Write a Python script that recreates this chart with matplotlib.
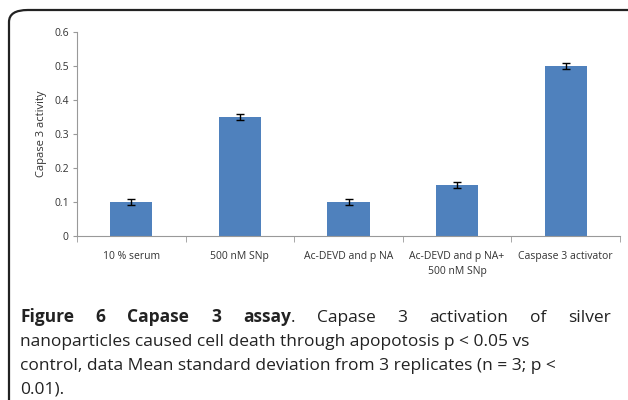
import matplotlib.pyplot as plt
from matplotlib.patches import FancyBboxPatch
import numpy as np

plt.rcParams['font.family'] = ['Open Sans', 'DejaVu Sans']

# data
groups = ['10 % serum', '500 nM SNp', 'Ac-DEVD and p NA', 'Ac-DEVD and p NA+\n500 nM SNp', 'Caspase 3 activator']
activity = [0.10, 0.35, 0.10, 0.15, 0.50]
err = [0.008, 0.008, 0.008, 0.009, 0.008]
yticks = [0, 0.1, 0.2, 0.3, 0.4, 0.5, 0.6]
ytick_labels = ['0', '0.1', '0.2', '0.3', '0.4', '0.5', '0.6']

W, H = 628, 400
fig = plt.figure(figsize=(W / 100, H / 100), dpi=100)

# outer rounded frame
box = FancyBboxPatch((9 / W, -0.2), 1.2, 1.2 - 10 / H,
                     boxstyle='round,pad=0,rounding_size=0.03',
                     transform=fig.transFigure, fill=False, ec='#222222', lw=1.6)
fig.patches.append(box)

ax = fig.add_axes([77 / W, 164 / H, 543 / W, 204 / H])
x = np.arange(len(groups))
ax.bar(x, activity, width=0.39, color='#4F81BD', zorder=2)
ax.errorbar(x, activity, yerr=err, fmt='none', ecolor='black', elinewidth=1, capsize=3, capthick=1, zorder=3)

ax.set_xlim(-0.5, len(groups) - 0.5)
ax.set_ylim(0, 0.6)
ax.set_yticks(yticks)
ax.set_yticklabels(ytick_labels)
ax.set_xticks(x)
ax.set_xticklabels(groups, fontsize=7.5, color='#333333', linespacing=1.45)
ax.set_xticks(np.arange(len(groups) + 1) - 0.5, minor=True)
ax.tick_params(axis='x', which='major', length=0, pad=11)
ax.tick_params(axis='x', which='minor', length=4, color='#999999')
ax.tick_params(axis='y', length=3, color='#999999', labelsize=7.5, labelcolor='#333333', pad=3)
for s in ['top', 'right']:
    ax.spines[s].set_visible(False)
ax.spines['left'].set_color('#999999')
ax.spines['bottom'].set_color('#999999')
ax.set_ylabel('Capase 3 activity', fontsize=8, color='#333333', labelpad=5)

# caption, first line justified
fig.canvas.draw()
r = fig.canvas.get_renderer()
left, right = 20 / W, 611 / W
y1 = 1 - 322 / H
tokens = [[('Figure', 'bold')], [('6', 'bold')], [('Capase', 'bold')], [('3', 'bold')],
          [('assay', 'bold'), ('.', 'normal')], [('Capase', 'normal')], [('3', 'normal')],
          [('activation', 'normal')], [('of', 'normal')], [('silver', 'normal')]]
fs = 12.5
widths = []
for tok in tokens:
    w = 0
    for t, wt in tok:
        tt = fig.text(0, 0, t, fontsize=fs, fontweight=wt)
        w += tt.get_window_extent(r).width / W
        tt.remove()
    widths.append(w)
gap = (right - left - sum(widths)) / (len(tokens) - 1)
xpos = left
for tok, w in zip(tokens, widths):
    xx = xpos
    for t, wt in tok:
        tt = fig.text(xx, y1, t, fontsize=fs, fontweight=wt, color='#222222', va='baseline')
        xx += tt.get_window_extent(r).width / W
    xpos += w + gap

lines = ['nanoparticles caused cell death through apopotosis p < 0.05 vs',
         'control, data Mean standard deviation from 3 replicates (n = 3; p <',
         '0.01).']
for i, ln in enumerate(lines):
    fig.text(left, 1 - (346 + 23.5 * i) / H, ln, fontsize=fs, color='#222222', va='baseline')

fig.savefig('out.png', dpi=100)
